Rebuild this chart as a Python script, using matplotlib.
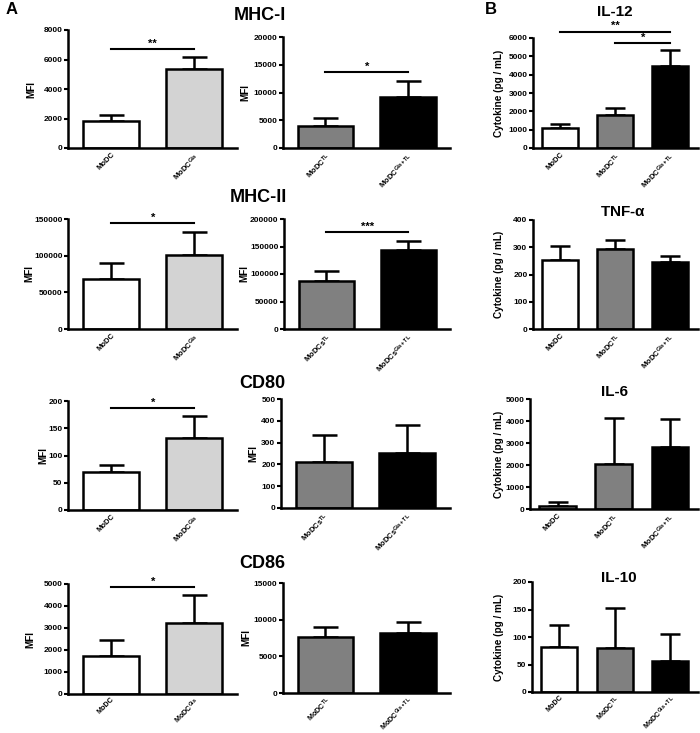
import matplotlib
matplotlib.use("Agg")
import matplotlib.pyplot as plt
import numpy as np

plt.rcParams['font.family'] = ['Liberation Sans', 'DejaVu Sans']
plt.rcParams['font.weight'] = 'bold'
plt.rcParams['mathtext.fontset'] = 'custom'
plt.rcParams['mathtext.rm'] = 'Liberation Sans:bold'
plt.rcParams['mathtext.bf'] = 'Liberation Sans:bold'
plt.rcParams['mathtext.it'] = 'Liberation Sans:bold'
plt.rcParams['mathtext.default'] = 'bf'

# ---------------- data ----------------
mhc1_left_labels = [r'MoDC', r'MoDC$^{Gia}$']
mhc1_left_vals = [1820, 5330]
mhc1_left_err = [430, 870]
mhc1_right_labels = [r'MoDC$^{TL}$', r'MoDC$^{Gia+TL}$']
mhc1_right_vals = [4000, 9200]
mhc1_right_err = [1400, 2800]

mhc2_left_labels = [r'MoDC', r'MoDC$^{Gia}$']
mhc2_left_vals = [68500, 101000]
mhc2_left_err = [21500, 31000]
mhc2_right_labels = [r'MoDCs$^{TL}$', r'MoDCs$^{Gia+TL}$']
mhc2_right_vals = [86500, 144000]
mhc2_right_err = [19500, 16000]

cd80_left_labels = [r'MoDC', r'MoDC$^{Gia}$']
cd80_left_vals = [70, 132]
cd80_left_err = [12, 41]
cd80_right_labels = [r'MoDCs$^{TL}$', r'MoDCs$^{Gia+TL}$']
cd80_right_vals = [211, 253]
cd80_right_err = [126, 129]

cd86_left_labels = [r'MoDC', r'MoDC$^{Gia}$']
cd86_left_vals = [1710, 3230]
cd86_left_err = [740, 1270]
cd86_right_labels = [r'MoDC$^{TL}$', r'MoDC$^{Gia+TL}$']
cd86_right_vals = [7650, 8250]
cd86_right_err = [1350, 1450]

cyt_labels = [r'MoDC', r'MoDC$^{TL}$', r'MoDC$^{Gia+TL}$']
il12_vals = [1110, 1800, 4480]
il12_err = [220, 400, 880]
tnf_vals = [255, 294, 245]
tnf_err = [50, 31, 22]
il6_vals = [150, 2060, 2800]
il6_err = [170, 2090, 1300]
il10_vals = [82, 80, 56]
il10_err = [40, 72, 50]

two_colors_left = ['white', '#d3d3d3']
two_colors_right = ['#808080', 'black']
three_colors = ['white', '#808080', 'black']

W, H = 700, 733
fig = plt.figure(figsize=(W / 100, H / 100), dpi=100)


def make_ax(x0, x1, ytop, ybot):
    ax = fig.add_axes([x0 / W, 1 - ybot / H, (x1 - x0) / W, (ybot - ytop) / H])
    ax._px = (x0, x1)
    return ax


def bar_panel(ax, labels, vals, errs, colors, ymax, ystep, ylabel, label_x, sigs=(), n=2,
              xfs=5.5, xpad=2.5):
    x = np.arange(len(vals))
    if n == 2:
        width, xlim, cap = 0.67, (-0.515, 1.51), 9
    else:
        width, xlim, cap = 0.655, (-0.49, 2.5), 7
    ax.bar(x, vals, width=width, color=colors, edgecolor='black', linewidth=1.8, zorder=2)
    ax.errorbar(x, vals, yerr=[np.zeros(len(errs)), errs], fmt='none', ecolor='black',
                elinewidth=1.8, capsize=cap, capthick=1.8, zorder=1)
    ax.set_xlim(*xlim)
    ax.set_ylim(0, ymax)
    ax.set_yticks(np.arange(0, ymax + 1, ystep))
    ax.set_xticks(x)
    ax.set_xticklabels(labels, rotation=45, ha='right', rotation_mode='anchor', fontsize=xfs,
                       fontweight='bold')
    for t in ax.get_yticklabels():
        t.set_fontsize(6.0)
        t.set_fontweight('bold')
    ax.tick_params(axis='x', length=0, pad=xpad)
    ax.tick_params(axis='y', length=3, width=1.5, pad=1)
    for s in ['top', 'right']:
        ax.spines[s].set_visible(False)
    for s in ['left', 'bottom']:
        ax.spines[s].set_linewidth(1.8)
    ax.set_ylabel(ylabel, fontsize=7.2, fontweight='bold')
    x0, x1 = ax._px
    ax.yaxis.set_label_coords((label_x + 3.5 - x0) / (x1 - x0), 0.5)
    for (i, j, y, txt) in sigs:
        ax.plot([i, j], [y, y], color='black', linewidth=1.5, clip_on=False)
        ax.text((i + j) / 2, y + ymax * 0.005, txt, ha='center', va='bottom', fontsize=8,
                fontweight='bold', clip_on=False)
    ax.patch.set_alpha(0)


# Row 1
ax = make_ax(68, 237, 30, 148)
bar_panel(ax, mhc1_left_labels, mhc1_left_vals, mhc1_left_err, two_colors_left, 8000, 2000, 'MFI', 33,
          sigs=[(0, 1, 6700, '**')])
ax = make_ax(283, 450, 37, 148)
bar_panel(ax, mhc1_right_labels, mhc1_right_vals, mhc1_right_err, two_colors_right, 20000, 5000, 'MFI', 247,
          sigs=[(0, 1, 13700, '*')])
ax = make_ax(533, 698, 38, 148)
bar_panel(ax, cyt_labels, il12_vals, il12_err, three_colors, 6000, 1000, 'Cytokine (pg / mL)', 501,
          sigs=[(0, 2, 6350, '**'), (1, 2, 5730, '*')], n=3)

# Row 2
ax = make_ax(68, 237, 219, 329)
bar_panel(ax, mhc2_left_labels, mhc2_left_vals, mhc2_left_err, two_colors_left, 150000, 50000, 'MFI', 31,
          sigs=[(0, 1, 144500, '*')])
ax = make_ax(284, 450, 219, 329)
bar_panel(ax, mhc2_right_labels, mhc2_right_vals, mhc2_right_err, two_colors_right, 200000, 50000, 'MFI', 246,
          sigs=[(0, 1, 175500, '***')])
ax = make_ax(533, 698, 220, 329)
bar_panel(ax, cyt_labels, tnf_vals, tnf_err, three_colors, 400, 100, 'Cytokine (pg / mL)', 501, n=3)

# Row 3
ax = make_ax(68, 237, 401, 510)
bar_panel(ax, cd80_left_labels, cd80_left_vals, cd80_left_err, two_colors_left, 200, 50, 'MFI', 45,
          sigs=[(0, 1, 187, '*')])
ax = make_ax(281, 450, 399, 508)
bar_panel(ax, cd80_right_labels, cd80_right_vals, cd80_right_err, two_colors_right, 500, 100, 'MFI', 255)
ax = make_ax(530, 698, 399, 509)
bar_panel(ax, cyt_labels, il6_vals, il6_err, three_colors, 5000, 1000, 'Cytokine (pg / mL)', 501, n=3)

# Row 4
ax = make_ax(68, 237, 584, 694)
bar_panel(ax, cd86_left_labels, cd86_left_vals, cd86_left_err, two_colors_left, 5000, 1000, 'MFI', 32,
          sigs=[(0, 1, 4860, '*')], xfs=5.2, xpad=1.5)
ax = make_ax(283, 450, 583, 693)
bar_panel(ax, cd86_right_labels, cd86_right_vals, cd86_right_err, two_colors_right, 15000, 5000, 'MFI', 248,
          xfs=5.2, xpad=1.5)
ax = make_ax(532, 698, 582, 692)
bar_panel(ax, cyt_labels, il10_vals, il10_err, three_colors, 200, 50, 'Cytokine (pg / mL)', 501, n=3,
          xfs=5.2, xpad=1.5)

# Titles
def ftext(x, y, s, size):
    fig.text(x / W, 1 - y / H, s, ha='center', va='center', fontsize=size, fontweight='bold')

ftext(260, 16, 'MHC-I', 13)
ftext(258, 197, 'MHC-II', 13)
ftext(262, 383, 'CD80', 13)
ftext(262, 563, 'CD86', 13)
ftext(615, 12, 'IL-12', 11)
ftext(623, 212, r'TNF-$\mathregular{\alpha}$', 11)
ftext(615, 392, 'IL-6', 11)
ftext(619, 578, 'IL-10', 11)
ftext(12, 10, 'A', 12)
ftext(491, 10, 'B', 12)

fig.savefig('out.png', dpi=100)
